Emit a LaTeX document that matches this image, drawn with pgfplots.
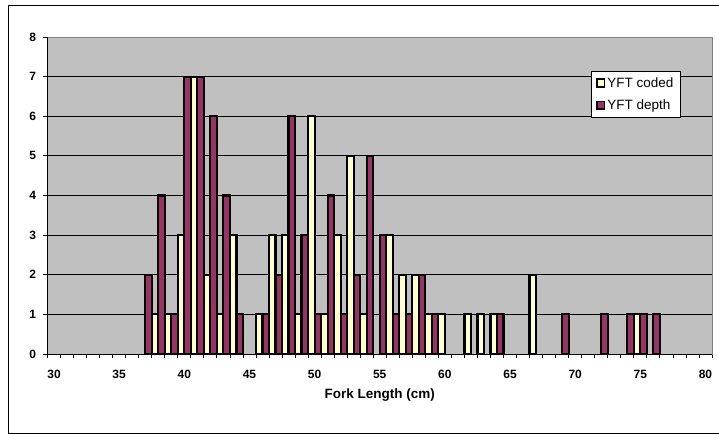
\documentclass[border=0pt]{standalone}
\usepackage{pgfplots}
\usepackage{pgfplotstable}
\usepackage{fontspec}
\setmainfont{Liberation Sans}
\pgfplotsset{compat=1.18}
\definecolor{plotgray}{HTML}{C0C0C0}
\definecolor{bordergray}{HTML}{808080}
\definecolor{codedcol}{HTML}{FFFFCC}
\definecolor{depthcol}{HTML}{993366}
\pgfplotstableread{
x y
38 1
39 1
40 3
41 7
42 2
43 1
44 3
46 1
47 3
48 3
49 1
50 6
51 1
52 3
53 5
54 1
56 3
57 2
58 2
59 1
60 1
62 1
63 1
64 1
67 2
75 1
}\coded
\pgfplotstableread{
x y
37 2
38 4
39 1
40 7
41 7
42 6
43 4
44 1
46 1
47 2
48 6
49 3
50 1
51 4
52 1
53 2
54 5
55 3
56 1
57 1
58 2
59 1
64 1
69 1
72 1
74 1
75 1
76 1
}\depth
\begin{document}
\begin{tikzpicture}
\useasboundingbox (0,0) rectangle (719bp,-434bp);
\draw[black, line width=0.8bp] (8bp,-5bp) rectangle (730bp,-433bp);
\begin{axis}[
  at={(47.5bp,-354bp)}, anchor=south west,
  scale only axis, width=664.5bp, height=317bp,
  xmin=29.5, xmax=80.5, ymin=0, ymax=8,
  axis background/.style={fill=plotgray},
  axis line style={draw=bordergray, line width=0.8bp},
  clip=false,
  tick align=outside, tick pos=left,
  major tick length=4bp,
  tick style={black, line width=0.8bp},
  ytick={0,1,...,8},
  ymajorgrids, grid style={black, line width=0.8bp},
  xtick={29.5,30.5,...,80.5}, xticklabels={},
  extra x ticks={30,35,...,80},
  extra x tick style={major tick length=0pt, grid=none},
  /pgf/number format/assume math mode=true,
  ticklabel style={font=\bfseries\fontsize{12bp}{14bp}\selectfont},
  xticklabel style={yshift=-13bp},
  yticklabel style={xshift=-4bp},
  xlabel={Fork Length (cm)},
  xlabel style={font=\bfseries\fontsize{13.5bp}{16bp}\selectfont, at={(axis description cs:0.5,0)}, anchor=center, yshift=-41bp},
  legend style={at={(axis description cs:0.8175,0.8927)}, anchor=north west,
    draw=black, fill=white, line width=0.8bp,
    font=\fontsize{13.5bp}{15bp}\selectfont, inner xsep=5bp, inner ysep=4bp,
    row sep=7bp},
  legend cell align=left,
  legend image code/.code={\draw[#1, draw=black, line width=1.6bp] (0bp,-3.8bp) rectangle (7.6bp,3.8bp);},
  every axis plot/.append style={draw=black, line width=2.2bp},
]
\addplot[ybar, bar width=0.5, bar shift=-0.25, fill=codedcol, draw=black, line width=2.2bp] table[x=x,y=y] {\coded};
\addlegendentry{YFT coded}
\addplot[ybar, bar width=0.5, bar shift=0.25, fill=depthcol, draw=black, line width=2.2bp] table[x=x,y=y] {\depth};
\addlegendentry{YFT depth}
\draw[black, line width=0.8bp] (rel axis cs:0,1) -- (rel axis cs:0,0) -- (rel axis cs:1,0);
\end{axis}
\end{tikzpicture}
\end{document}
